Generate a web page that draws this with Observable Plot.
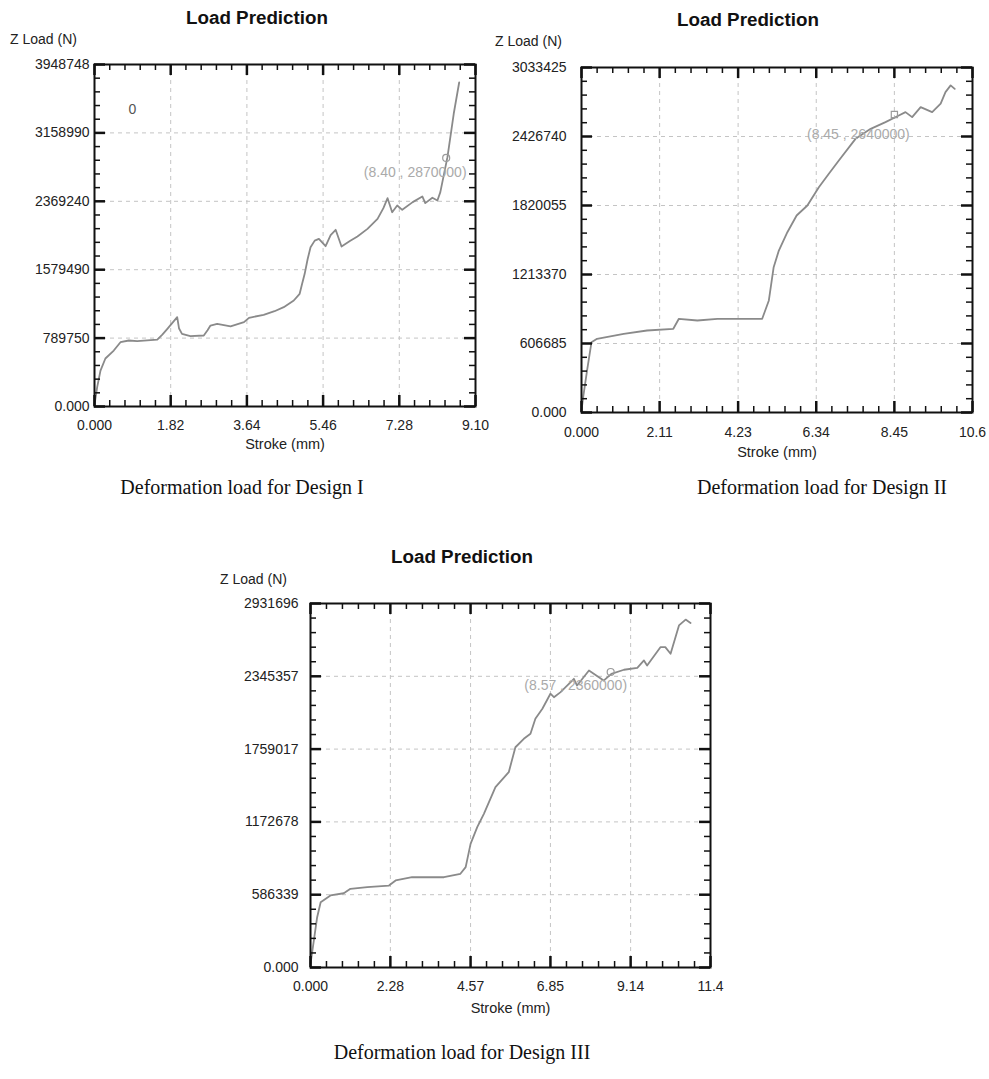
<!DOCTYPE html>
<html><head><meta charset="utf-8">
<script src="https://cdn.jsdelivr.net/npm/d3@7"></script>
<script src="https://cdn.jsdelivr.net/npm/@observablehq/plot@0.6"></script>
<style>
body{margin:0;background:#fff;}
#page{position:relative;width:989px;height:1079px;overflow:hidden;background:#fff;font-family:"Liberation Sans",Arial,sans-serif;}
.abs{position:absolute;white-space:nowrap;}
.title{font-weight:bold;font-size:18.8px;color:#111;transform:translate(-50%,-50%);}
.ylab{font-size:14px;color:#222;transform:translate(0,-50%);}
.cap{font-family:"Liberation Serif","Times New Roman",serif;font-size:20px;color:#111;transform:translate(-50%,-50%);}
.panel{position:absolute;}
.panel svg{overflow:visible;}
</style></head><body><div id="page"></div>
<script>
// ---------- Design I ----------
const d1Stroke = [0,0.064,0.143,0.26,0.46,0.62,0.82,1.02,1.50,1.62,1.74,1.975,2.02,2.09,2.29,2.61,2.70,2.77,2.93,3.25,3.57,3.69,4.04,4.30,4.52,4.76,4.90,4.95,5.02,5.09,5.16,5.26,5.36,5.52,5.64,5.76,5.90,6.10,6.28,6.52,6.76,6.90,7.00,7.11,7.23,7.35,7.60,7.83,7.90,8.07,8.19,8.26,8.43,8.58,8.71];
const d1Load = [20000,223000,415000,554000,646000,742000,762000,754000,773000,830000,897000,1031000,900000,839000,812000,820000,880000,935000,955000,924000,974000,1024000,1059000,1100000,1147000,1224000,1301000,1400000,1532000,1700000,1839000,1915000,1936000,1851000,1980000,2040000,1847000,1910000,1963000,2051000,2167000,2290000,2405000,2243000,2321000,2271000,2360000,2425000,2348000,2410000,2379000,2475000,2879000,3380000,3741000];
const d1XTicks = [0,1.82,3.64,5.46,7.28,9.10];
const d1XLabels = ["0.000","1.82","3.64","5.46","7.28","9.10"];
const d1YTicks = [0,789750,1579490,2369240,3158990,3948748];
const d1YLabels = ["0.000","789750","1579490","2369240","3158990","3948748"];
const d1Ann = {x:8.40, y:2870000, text:"(8.40 , 2870000)"};

// ---------- Design II ----------
const d2Stroke = [0,0.045,0.15,0.27,0.42,1.14,1.77,2.48,2.63,3.13,3.67,4.88,5.06,5.19,5.33,5.56,5.81,6.10,6.41,6.68,6.95,7.40,7.81,8.21,8.57,8.75,8.93,9.16,9.47,9.70,9.83,9.97,10.08];
const d2Load = [17600,135000,369000,618000,648000,692000,721000,736000,824000,809000,824000,824000,985000,1278000,1424000,1585000,1732000,1820000,1981000,2099000,2216000,2406000,2494000,2553000,2611000,2641000,2597000,2685000,2641000,2715000,2817000,2876000,2846000];
const d2XTicks = [0,2.11,4.23,6.34,8.45,10.56];
const d2XLabels = ["0.000","2.11","4.23","6.34","8.45","10.6"];
const d2YTicks = [0,606685,1213370,1820055,2426740,3033425];
const d2YLabels = ["0.000","606685","1213370","1820055","2426740","3033425"];
const d2Ann = {x:8.45, y:2620000, text:"(8.45 , 2640000)"};

// ---------- Design III ----------
const d3Stroke = [0,0.095,0.19,0.29,0.57,0.95,1.14,1.62,2.24,2.43,2.90,3.81,4.28,4.43,4.57,4.76,4.95,5.28,5.66,5.85,6.09,6.28,6.42,6.62,6.85,6.95,7.14,7.52,7.61,7.95,8.37,8.59,8.95,9.33,9.52,9.61,9.99,10.13,10.28,10.52,10.71,10.85];
const d3Load = [30000,217000,405000,526000,580000,598000,634000,647000,660000,701000,727000,727000,755000,808000,996000,1130000,1238000,1452000,1573000,1774000,1842000,1882000,2003000,2084000,2205000,2177000,2218000,2325000,2271000,2392000,2311000,2365000,2398000,2414000,2473000,2432000,2580000,2580000,2527000,2755000,2802000,2775000];
const d3XTicks = [0,2.28,4.57,6.85,9.14,11.42];
const d3XLabels = ["0.000","2.28","4.57","6.85","9.14","11.4"];
const d3YTicks = [0,586339,1172678,1759017,2345357,2931696];
const d3YLabels = ["0.000","586339","1172678","1759017","2345357","2931696"];
const d3Ann = {x:8.57, y:2380000, text:"(8.57 , 2360000)"};

const titles = ["Load Prediction","Load Prediction","Load Prediction"];
const yTitle = "Z Load (N)";
const xTitle = "Stroke (mm)";
const captions = ["Deformation load for Design I","Deformation load for Design II","Deformation load for Design III"];

const FONT = "Liberation Sans, Arial, sans-serif";
function minor(t){const out=[];for(let i=0;i<t.length-1;i++){const s=(t[i+1]-t[i])/5;for(let k=1;k<5;k++)out.push(t[i]+k*s);}return out;}

function panel(o){
  const data = o.stroke.map((x,i)=>({x, y:o.load[i]}));
  const W = o.width-o.ml-o.mr, H = o.height-o.mt-o.mb;
  const xMin = minor(o.xTicks), yMin = minor(o.yTicks);
  const xIn = o.xTicks.slice(1,-1), yIn = o.yTicks.slice(1,-1);
  const MJ = 11, MN = 6;
  const marks = [
    Plot.gridX(xIn, {stroke:"#c4c4c4", strokeOpacity:1, strokeDasharray:"4,4", strokeWidth:1}),
    Plot.gridY(yIn, {stroke:"#c4c4c4", strokeOpacity:1, strokeDasharray:"4,4", strokeWidth:1}),
    Plot.line(data, {x:"x", y:"y", stroke:"#8a8a8a", strokeWidth:1.8}),
    Plot.dot([o.ann], {x:"x", y:"y", r:3.5, symbol:o.sym, stroke:"#9a9a9a", fill:"none", strokeWidth:1.2}),
    Plot.text([o.ann], {x:"x", y:"y", text:"text", dx:o.adx, dy:o.ady, fill:"#aaaaaa", fontSize:14, fontFamily:FONT}),
    Plot.tickX(xMin, {insetTop:H-MN, stroke:"#111", strokeWidth:1.5}),
    Plot.tickX(xMin, {insetBottom:H-MN, stroke:"#111", strokeWidth:1.5}),
    Plot.tickX(o.xTicks, {insetTop:H-MJ, stroke:"#111", strokeWidth:2.5}),
    Plot.tickX(o.xTicks, {insetBottom:H-MJ, stroke:"#111", strokeWidth:2.5}),
    Plot.tickY(yMin, {insetRight:W-MN, stroke:"#111", strokeWidth:1.5}),
    Plot.tickY(yMin, {insetLeft:W-MN, stroke:"#111", strokeWidth:1.5}),
    Plot.tickY(o.yTicks, {insetRight:W-MJ, stroke:"#111", strokeWidth:2.5}),
    Plot.tickY(o.yTicks, {insetLeft:W-MJ, stroke:"#111", strokeWidth:2.5}),
    Plot.frame({stroke:"#111", strokeWidth:2}),
    Plot.axisX(o.xTicks, {anchor:"bottom", tickSize:0, tickPadding:o.xPad, tickFormat:d=>o.xLabels[o.xTicks.indexOf(d)], label:null, fill:"#222", fontSize:14}),
    Plot.axisY(o.yTicks, {anchor:"left", tickSize:0, tickPadding:o.yPad, tickFormat:d=>o.yLabels[o.yTicks.indexOf(d)], label:null, fill:"#222", fontSize:14}),
    Plot.text([xTitle], {frameAnchor:"bottom", dy:o.xlDy, lineAnchor:"middle", fill:"#222", fontSize:14.5, fontFamily:FONT})
  ];
  if (o.extra) marks.push(o.extra);
  return Plot.plot({
    width:o.width, height:o.height, marginLeft:o.ml, marginRight:o.mr, marginTop:o.mt, marginBottom:o.mb,
    style:{fontFamily:FONT, fontSize:"14px", background:"transparent", overflow:"visible"},
    x:{domain:[o.xTicks[0], o.xTicks[o.xTicks.length-1]]},
    y:{domain:[o.yTicks[0], o.yTicks[o.yTicks.length-1]]},
    marks
  });
}

const page = document.getElementById("page");
function place(node, left, top){const d=document.createElement("div");d.className="panel";d.style.left=left+"px";d.style.top=top+"px";d.appendChild(node);page.appendChild(d);}
function label(cls, text, x, y){const d=document.createElement("div");d.className="abs "+cls;d.textContent=text;d.style.left=x+"px";d.style.top=y+"px";page.appendChild(d);}

place(panel({stroke:d1Stroke, load:d1Load, xTicks:d1XTicks, xLabels:d1XLabels, yTicks:d1YTicks, yLabels:d1YLabels,
  ann:d1Ann, sym:"circle", adx:-31, ady:15, width:490, height:460, ml:94, mr:15, mt:64, mb:54, xPad:14, yPad:5, xlDy:38,
  extra: Plot.text(["0"], {frameAnchor:"top-left", dx:34, dy:45, lineAnchor:"middle", fill:"#555", fontSize:14, fontFamily:FONT})}), 0, 0);
place(panel({stroke:d2Stroke, load:d2Load, xTicks:d2XTicks, xLabels:d2XLabels, yTicks:d2YTicks, yLabels:d2YLabels,
  ann:d2Ann, sym:"square", adx:-36, ady:20, width:499, height:460, ml:91, mr:17, mt:67, mb:48, xPad:15, yPad:15, xlDy:40}), 490, 0);
place(panel({stroke:d3Stroke, load:d3Load, xTicks:d3XTicks, xLabels:d3XLabels, yTicks:d3YTicks, yLabels:d3YLabels,
  ann:d3Ann, sym:"circle", adx:-35, ady:14, width:540, height:470, ml:120, mr:20, mt:43, mb:63, xPad:14, yPad:12, xlDy:41}), 190, 560);

label("title", titles[0], 257, 18);
label("title", titles[1], 748, 20);
label("title", titles[2], 462, 557);
label("ylab", yTitle, 10, 39);
label("ylab", yTitle, 495, 41);
label("ylab", yTitle, 220, 579);
label("cap", captions[0], 242, 487);
label("cap", captions[1], 822, 487);
label("cap", captions[2], 462, 1052);
</script>
</body></html>
